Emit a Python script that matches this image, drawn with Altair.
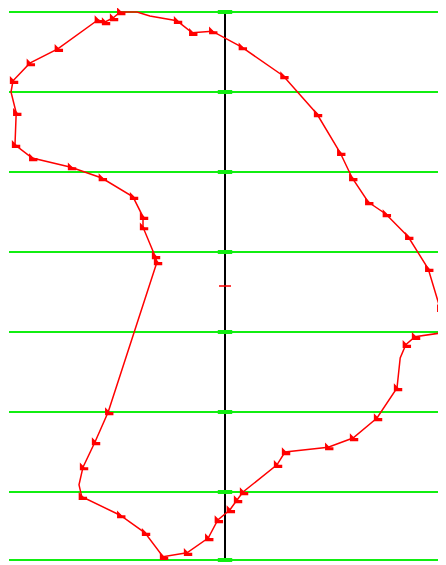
import altair as alt
import pandas as pd

# polygon vertices (x relative to centre line, y in level units, downward)
poly_x = [-1.40, -1.31, -1.10, -0.94, -0.60, -0.41, -0.16, 0.21, 0.73, 1.15,
          1.44, 1.59, 1.79, 2.01, 2.29, 2.54, 2.69, 2.71, 2.375, 2.26,
          2.19, 2.15, 1.90, 1.60, 1.29, 0.75, 0.65, 0.225, 0.15, 0.06,
          -0.09, -0.21, -0.475, -0.775, -1.00, -1.31, -1.79, -1.825, -1.775, -1.625,
          -1.46, -0.85, -0.875, -1.025, -1.025, -1.15, -1.54, -1.925, -2.41, -2.625,
          -2.61, -2.675, -2.65, -2.44, -2.09, -1.59, -1.50]
poly_y = [0.075, 0.00, 0.00, 0.05, 0.11, 0.26, 0.24, 0.44, 0.80, 1.275,
          1.76, 2.075, 2.375, 2.525, 2.81, 3.21, 3.71, 4.01, 4.06, 4.16,
          4.325, 4.70, 5.075, 5.325, 5.44, 5.50, 5.66, 6.00, 6.10, 6.225,
          6.35, 6.575, 6.76, 6.81, 6.51, 6.29, 6.06, 5.91, 5.69, 5.375,
          5.00, 3.125, 3.05, 2.69, 2.56, 2.31, 2.075, 1.94, 1.825, 1.66,
          1.26, 1.00, 0.86, 0.64, 0.46, 0.10, 0.125]
marker_on = [1, 1, 0, 0, 1, 1, 1, 1, 1, 1,
             1, 1, 1, 1, 1, 1, 1, 1, 1, 1,
             0, 1, 1, 1, 1, 1, 1, 1, 1, 1,
             1, 1, 1, 1, 1, 1, 1, 0, 1, 1,
             1, 1, 1, 1, 1, 1, 1, 1, 1, 1,
             1, 0, 1, 1, 1, 1, 1]

levels = [0, 1, 2, 3, 4, 5, 6, 6.85]
level_x1, level_x2 = -2.7, 2.675
centre_bottom = 6.84
red_tick_y = 3.425

xs = alt.Scale(domain=[-2.7125, 2.6625], nice=False, zero=False)
ys = alt.Scale(domain=[-0.05, 6.9125], nice=False, zero=False, reverse=True)

n = len(poly_x)
poly = pd.DataFrame({
    "x": poly_x + [poly_x[0]],
    "y": poly_y + [poly_y[0]],
    "i": list(range(n + 1)),
})
pts = pd.DataFrame({"x": poly_x, "y": poly_y, "m": marker_on})
pts = pts[pts.m == 1]

lev = pd.DataFrame({"y": levels, "x1": [level_x1] * len(levels), "x2": [level_x2] * len(levels)})

green_lines = alt.Chart(lev).mark_rule(color="#11ee11", strokeWidth=2, clip=False).encode(
    x=alt.X("x1:Q", scale=xs, axis=None),
    x2="x2:Q",
    y=alt.Y("y:Q", scale=ys, axis=None),
)

centre = alt.Chart(pd.DataFrame({"x": [0.0], "y1": [0.0], "y2": [centre_bottom]})).mark_rule(
    color="black", strokeWidth=2).encode(
    x=alt.X("x:Q", scale=xs, axis=None),
    y=alt.Y("y1:Q", scale=ys, axis=None),
    y2="y2:Q",
)

ticks = alt.Chart(pd.DataFrame({"y": levels, "a": [-0.09] * len(levels), "b": [0.09] * len(levels)})).mark_rule(
    color="#11ee11", strokeWidth=4).encode(
    x=alt.X("a:Q", scale=xs, axis=None),
    x2="b:Q",
    y=alt.Y("y:Q", scale=ys, axis=None),
)

red_tick = alt.Chart(pd.DataFrame({"y": [red_tick_y], "a": [-0.075], "b": [0.075]})).mark_rule(
    color="red", strokeWidth=1.5).encode(
    x=alt.X("a:Q", scale=xs, axis=None),
    x2="b:Q",
    y=alt.Y("y:Q", scale=ys, axis=None),
)

line = alt.Chart(poly).mark_line(color="red", strokeWidth=1.5, clip=False).encode(
    x=alt.X("x:Q", scale=xs, axis=None),
    y=alt.Y("y:Q", scale=ys, axis=None),
    order="i:Q",
)

flag = "M-0.6,0.6 L-0.6,-0.9 L0.3,0 L1,0 L1,0.6 Z"
markers = alt.Chart(pts).mark_point(
    shape=flag, filled=True, color="red", opacity=1, size=110, strokeWidth=0, clip=False
).encode(
    x=alt.X("x:Q", scale=xs, axis=None),
    y=alt.Y("y:Q", scale=ys, axis=None),
)

chart = alt.layer(green_lines, centre, ticks, red_tick, line, markers).properties(
    width=430, height=557, padding=0, autosize=alt.AutoSizeParams(type="none")
).configure_view(stroke=None)

chart.save("out.html", embed_options={"renderer": "svg", "actions": False})
